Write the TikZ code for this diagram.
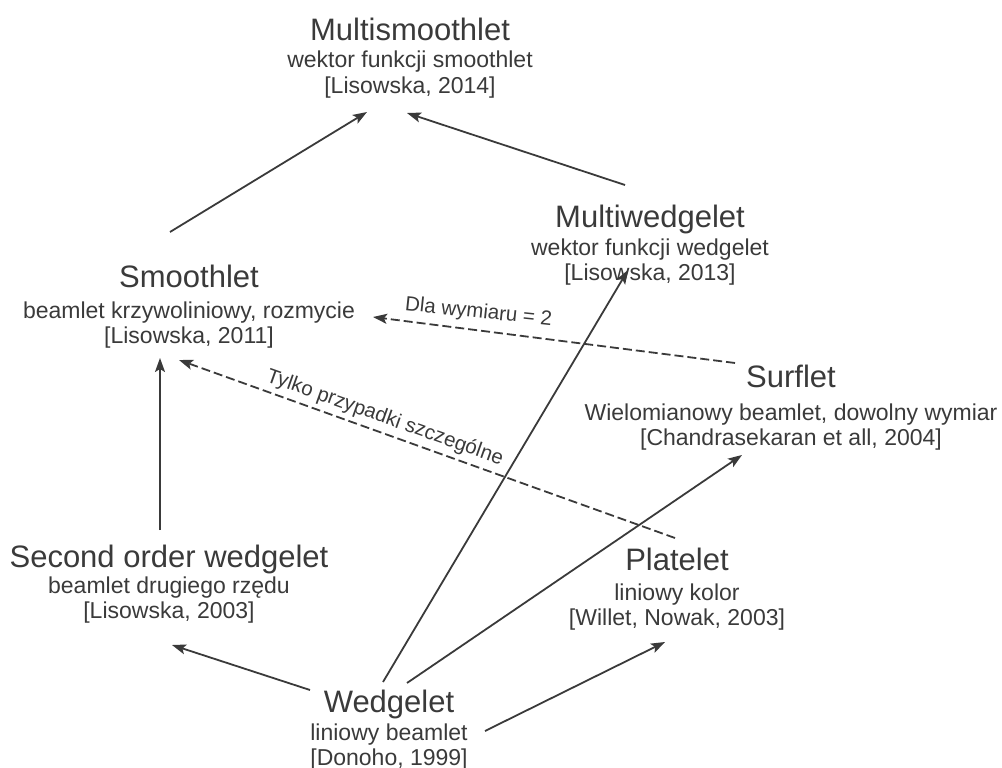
\documentclass[tikz,border=0pt]{standalone}
\usepackage{fontspec}
\setmainfont{Liberation Sans}
\usetikzlibrary{arrows.meta}
\definecolor{ink}{HTML}{3A3A3A}
\begin{document}
\begin{tikzpicture}[x=1pt,y=-1pt,
 ttl/.style={anchor=base,inner sep=0pt,text=ink,font=\fontsize{31}{31}\selectfont},
 sub/.style={anchor=base,inner sep=0pt,text=ink,font=\fontsize{23}{23}\selectfont},
 lbl/.style={anchor=base,inner sep=0pt,text=ink,font=\fontsize{20.5}{20.5}\selectfont},
 arr/.style={draw=ink,line width=1.8pt,-{Stealth[length=14pt,width=10pt,inset=3pt]}},
 darr/.style={arr,dash pattern=on 9pt off 4pt}]
\useasboundingbox (0,0) rectangle (1002,768);
% Multismoothlet
\node[ttl] (ms)  at (410,41) {Multismoothlet};
\node[sub] (ms2) at (410,68) {wektor funkcji smoothlet};
\node[sub] (ms3) at (410,93) {[Lisowska, 2014]};
% Multiwedgelet
\node[ttl] (mw)  at (650,227) {Multiwedgelet};
\node[sub] (mw2) at (650,255) {wektor funkcji wedgelet};
\node[sub] (mw3) at (650,280) {[Lisowska, 2013]};
% Smoothlet
\node[ttl] (sm)  at (189,287) {Smoothlet};
\node[sub] (sm2) at (189,318) {beamlet krzywoliniowy, rozmycie};
\node[sub] (sm3) at (189,343) {[Lisowska, 2011]};
% Surflet
\node[ttl] (sf)  at (791,387) {Surflet};
\node[sub] (sf2) at (791,420) {Wielomianowy beamlet, dowolny wymiar};
\node[sub] (sf3) at (791,445) {[Chandrasekaran et all, 2004]};
% Second order wedgelet
\node[ttl] (so)  at (169,567) {Second order wedgelet};
\node[sub] (so2) at (169,593) {beamlet drugiego rzędu};
\node[sub] (so3) at (169,618) {[Lisowska, 2003]};
% Platelet
\node[ttl] (pl)  at (677,570) {Platelet};
\node[sub] (pl2) at (677,600) {liniowy kolor};
\node[sub] (pl3) at (677,625) {[Willet, Nowak, 2003]};
% Wedgelet
\node[ttl] (wd)  at (389,712) {Wedgelet};
\node[sub] (wd2) at (389,740) {liniowy beamlet};
\node[sub] (wd3) at (389,765) {[Donoho, 1999]};
% connector ends
\coordinate (smA) at (170,232);  \coordinate (msA) at (367,112);
\coordinate (mwA) at (625,185);  \coordinate (msB) at (407,113);
\coordinate (wdA) at (383,682);  \coordinate (mwB) at (628,270);
\coordinate (wdB) at (407,683);  \coordinate (sfA) at (742,455);
\coordinate (wdC) at (485,731);  \coordinate (plA) at (665,642);
\coordinate (wdD) at (310,690);  \coordinate (soA) at (172,645);
\coordinate (soB) at (160,530);  \coordinate (smB) at (160,358);
\coordinate (sfB) at (735,363);  \coordinate (smC) at (373,317);
\coordinate (plB) at (675,538);  \coordinate (smD) at (179,360);
% connectors
\draw[arr] (smA) -- (msA);
\draw[arr] (mwA) -- (msB);
\draw[arr] (wdA) -- (mwB);
\draw[arr] (wdB) -- (sfA);
\draw[arr] (wdC) -- (plA);
\draw[arr] (wdD) -- (soA);
\draw[arr] (soB) -- (smB);
\draw[darr] (sfB) -- (smC);
\draw[darr] (plB) -- (smD);
% labels
\node[lbl,rotate=-6] (l1) at (478,318) {Dla wymiaru = 2};
\node[lbl,rotate=-19.6] (l2) at (383,423) {Tylko przypadki szczególne};
\end{tikzpicture}
\end{document}
